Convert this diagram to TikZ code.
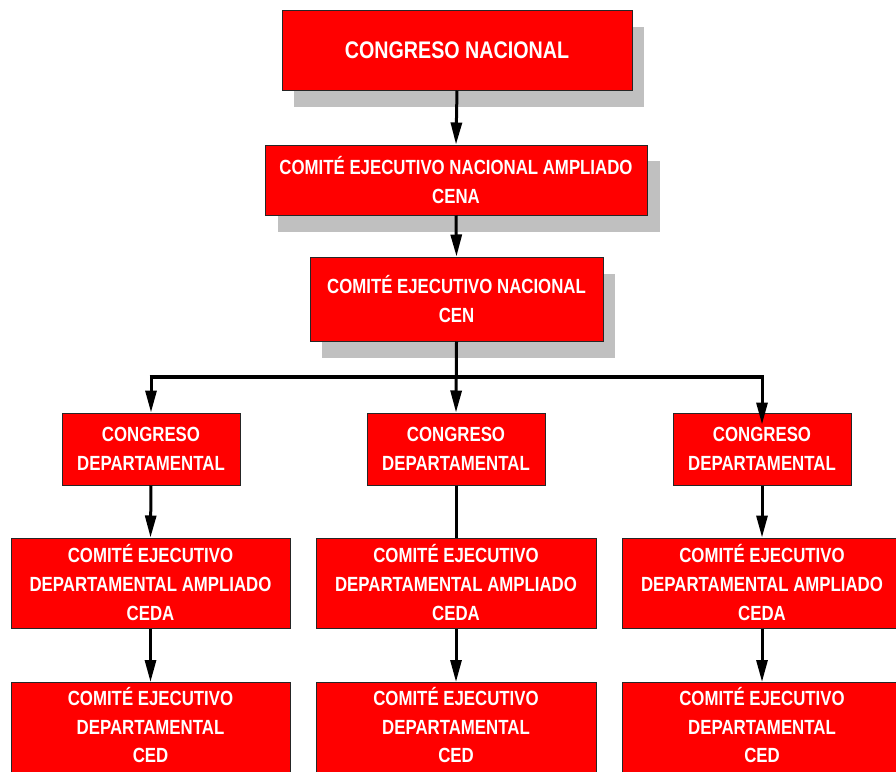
\documentclass[tikz,border=0pt]{standalone}
\usepackage{fontspec}
\setmainfont{Liberation Sans}[FakeStretch=0.82]
\usetikzlibrary{arrows.meta}
\definecolor{boxred}{HTML}{FF0000}
\definecolor{shadowgray}{HTML}{C0C0C0}
\tikzset{
  orgbox/.style={draw=black!85, line width=1pt, fill=boxred, text=white,
    font=\bfseries\fontsize{20.5}{29}\selectfont, align=center, inner sep=0pt},
  txtonly/.style={text=white, font=\bfseries\fontsize{20.5}{28.5}\selectfont, align=center, inner sep=0pt},
  shadowbox/.style={fill=shadowgray, draw=none},
  link/.style={line width=3pt, -{Triangle[length=22pt,width=11pt]}},
  plainlink/.style={line width=3pt},
  bar/.style={line width=3.5pt}
}
\begin{document}
\begin{tikzpicture}[x=1pt,y=-1pt]
\useasboundingbox (0,0) rectangle (896,771);
\clip (0,0) rectangle (896,771);
% shadows
\fill[shadowgray] (294,27) rectangle (644,107);
\fill[shadowgray] (278,161) rectangle (660,232);
\fill[shadowgray] (322,274) rectangle (615,358);
% top chain
\node[orgbox, minimum width=350pt, minimum height=80pt, font=\bfseries\fontsize{24}{28}\selectfont] (cn) at (457,50) {CONGRESO NACIONAL};
\node[orgbox, minimum width=382pt, minimum height=70pt] (cena) at (456,180) {COMITÉ EJECUTIVO NACIONAL AMPLIADO\\CENA};
\node[orgbox, minimum width=293pt, minimum height=84pt] (cen) at (456.5,299) {COMITÉ EJECUTIVO NACIONAL\\CEN};
% departmental congresses
\node[orgbox, minimum width=178pt, minimum height=72pt] (cd1) at (151,449) {CONGRESO\\DEPARTAMENTAL};
\node[orgbox, minimum width=178pt, minimum height=72pt] (cd2) at (456,449) {CONGRESO\\DEPARTAMENTAL};
\node[orgbox, minimum width=178pt, minimum height=72pt] (cd3) at (762,449) {CONGRESO\\DEPARTAMENTAL};
% CEDA
\node[orgbox, minimum width=279pt, minimum height=90pt] (ceda1) at (150.5,583) {COMITÉ EJECUTIVO\\DEPARTAMENTAL AMPLIADO\\CEDA};
\node[orgbox, minimum width=280pt, minimum height=90pt] (ceda2) at (456,583) {COMITÉ EJECUTIVO\\DEPARTAMENTAL AMPLIADO\\CEDA};
\node[orgbox, minimum width=280pt, minimum height=90pt] (ceda3) at (762,583) {COMITÉ EJECUTIVO\\DEPARTAMENTAL AMPLIADO\\CEDA};
% CED
\node[orgbox, minimum width=279pt, minimum height=120pt, anchor=north] (ced1) at (150.5,682) {};
\node[orgbox, minimum width=280pt, minimum height=120pt, anchor=north] (ced2) at (456,682) {};
\node[orgbox, minimum width=280pt, minimum height=120pt, anchor=north] (ced3) at (762,682) {};
\node[txtonly] (cedt1) at ([yshift=-43.5pt]ced1.north) {COMITÉ EJECUTIVO\\DEPARTAMENTAL\\CED};
\node[txtonly] (cedt2) at ([yshift=-43.5pt]ced2.north) {COMITÉ EJECUTIVO\\DEPARTAMENTAL\\CED};
\node[txtonly] (cedt3) at ([yshift=-43.5pt]ced3.north) {COMITÉ EJECUTIVO\\DEPARTAMENTAL\\CED};
% connectors
\draw[link] (cn.south) -- (cena.north);
\draw[link] (cena.south) -- (cen.north);
\coordinate (barL) at (cd1.north |- 0,377);
\coordinate (barR) at (cd3.north |- 0,377);
\draw[bar] ([xshift=-1.5pt]barL) -- ([xshift=1.5pt]barR);
\draw[link] (cen.south) -- (cd2.north);
\draw[link] (barL) -- (cd1.north);
\draw[link] (barR) -- ([yshift=-12pt]cd3.north);
\draw[link] (cd1.south) -- (ceda1.north);
\draw[plainlink] (cd2.south) -- (ceda2.north);
\draw[link] (cd3.south) -- (ceda3.north);
\draw[link] (ceda1.south) -- (ced1.north);
\draw[link] (ceda2.south) -- (ced2.north);
\draw[link] (ceda3.south) -- (ced3.north);
\end{tikzpicture}
\end{document}
